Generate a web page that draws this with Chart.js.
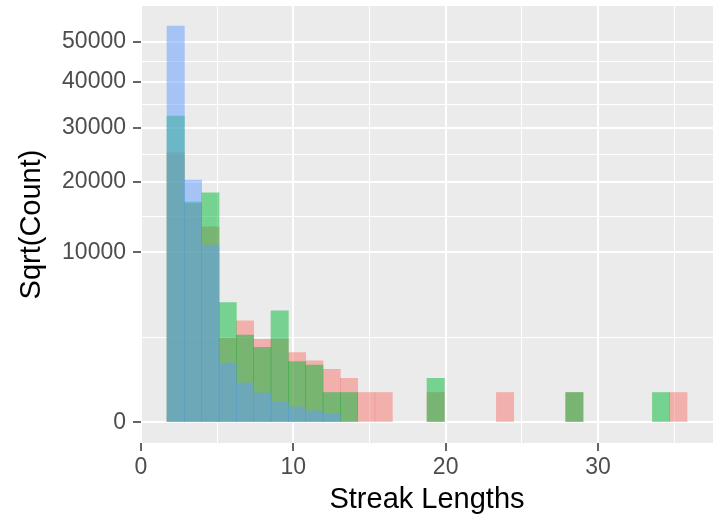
<!DOCTYPE html>
<html>
<head>
<meta charset="utf-8">
<script src="https://cdn.jsdelivr.net/npm/chart.js@4.4.1/dist/chart.umd.min.js"></script>
<style>
  html, body { margin: 0; padding: 0; background: #fff; }
</style>
</head>
<body>
<canvas id="streakChart" width="725" height="519"></canvas>
<script>
// histogram bins (centres, in streak length units)
var binCenters = [2.276, 3.414, 4.552, 5.690, 6.828, 7.966, 9.104, 10.242, 11.380, 12.518,
  13.656, 14.794, 15.932, 17.070, 18.208, 19.346, 20.484, 21.622, 22.760, 23.898,
  25.036, 26.174, 27.312, 28.450, 29.588, 30.726, 31.864, 33.002, 34.140, 35.278];
var redCounts = [25100, 16500, 13220, 2440, 3570, 2390, 2400, 1680, 1316, 975,
  673, 310, 310, 0, 0, 310, 0, 0, 0, 310,
  0, 0, 0, 310, 0, 0, 0, 0, 0, 310];
var greenCounts = [32400, 16770, 18200, 4950, 2640, 1950, 4310, 1275, 1140, 310,
  310, 0, 0, 0, 0, 673, 0, 0, 0, 0,
  0, 0, 0, 310, 0, 0, 0, 0, 310, 0];
var blueCounts = [54200, 20280, 10860, 1220, 540, 300, 145, 83, 46, 25,
  0, 0, 0, 0, 0, 0, 0, 0, 0, 0,
  0, 0, 0, 0, 0, 0, 0, 0, 0, 0];
var xMajor = [0, 10, 20, 30];
var xMinor = [5, 15, 25, 35];
var yMajor = [0, 10000, 20000, 30000, 40000, 50000];

var FONT = "'Liberation Sans', Arial, sans-serif";

function sgnSqrt(v) { return v < 0 ? -Math.sqrt(-v) : Math.sqrt(v); }

// linear scale drawn on a square-root transform
class SqrtScale extends Chart.LinearScale {
  configure() {
    super.configure();
    this._sMin = sgnSqrt(this.min);
    this._sMax = sgnSqrt(this.max);
  }
  getPixelForValue(value) {
    return this.getPixelForDecimal((sgnSqrt(value) - this._sMin) / (this._sMax - this._sMin));
  }
  getValueForPixel(pixel) {
    var s = this._sMin + this.getDecimalForPixel(pixel) * (this._sMax - this._sMin);
    return s < 0 ? -s * s : s * s;
  }
}
SqrtScale.id = 'sqrt';
SqrtScale.defaults = {};
Chart.register(SqrtScale);

// minor breaks sit halfway between majors in sqrt space
var yMinor = [];
for (var i = 0; i < yMajor.length - 1; i++) {
  var m = (Math.sqrt(yMajor[i]) + Math.sqrt(yMajor[i + 1])) / 2;
  yMinor.push(m * m);
}

// empty bins get no bar at all
function points(counts) {
  return binCenters.map(function (x, i) { return { x: x, y: counts[i] > 0 ? counts[i] : null }; });
}

var panelBg = {
  id: 'panelBg',
  beforeDraw: function (chart) {
    var c = chart.ctx, a = chart.chartArea;
    c.save();
    c.fillStyle = '#ffffff';
    c.fillRect(0, 0, chart.width, chart.height);
    c.fillStyle = '#EBEBEB';
    c.fillRect(a.left, a.top, a.right - a.left, a.bottom - a.top);
    c.restore();
  }
};

function gridStyle(majors) {
  return {
    color: '#ffffff',
    lineWidth: function (ctx) { return majors.indexOf(ctx.tick.value) >= 0 ? 2 : 1; },
    tickColor: function (ctx) { return majors.indexOf(ctx.tick.value) >= 0 ? '#333333' : 'rgba(0,0,0,0)'; },
    tickWidth: 1.5,
    tickLength: 8,
    drawTicks: true,
    offset: false
  };
}

var ctx = document.getElementById('streakChart').getContext('2d');
var chart = new Chart(ctx, {
  type: 'bar',
  data: {
    datasets: [
      { label: 'blue', data: points(blueCounts), backgroundColor: 'rgba(97,156,255,0.5)', order: 1 },
      { label: 'green', data: points(greenCounts), backgroundColor: 'rgba(0,186,56,0.5)', order: 2 },
      { label: 'red', data: points(redCounts), backgroundColor: 'rgba(248,118,109,0.5)', order: 3 }
    ]
  },
  options: {
    responsive: false,
    animation: false,
    devicePixelRatio: 1,
    layout: { padding: { left: 14, top: 6, right: 12, bottom: 0 } },
    datasets: {
      bar: { grouped: false, barPercentage: 1, categoryPercentage: 1, borderWidth: 0 }
    },
    plugins: { legend: { display: false }, tooltip: { enabled: false } },
    scales: {
      x: {
        type: 'linear',
        min: 0,
        max: 37.55,
        offset: false,
        grid: gridStyle(xMajor),
        border: { display: false },
        afterBuildTicks: function (s) {
          s.ticks = xMajor.concat(xMinor).sort(function (a, b) { return a - b; })
            .map(function (v) { return { value: v }; });
        },
        afterFit: function (s) { s.height = 76; s.paddingLeft = 0; s.paddingRight = 0; },
        ticks: {
          autoSkip: false,
          maxRotation: 0,
          padding: 3,
          color: '#4D4D4D',
          font: { family: FONT, size: 23 },
          callback: function (v) { return xMajor.indexOf(v) >= 0 ? String(v) : ''; }
        },
        title: {
          display: true,
          text: 'Streak Lengths',
          color: '#000000',
          font: { family: FONT, size: 29 },
          padding: { top: 0, bottom: 2 }
        }
      },
      y: {
        type: 'sqrt',
        bounds: 'data',
        min: -145,
        max: 59830,
        grid: gridStyle(yMajor),
        border: { display: false },
        afterBuildTicks: function (s) {
          s.ticks = yMajor.concat(yMinor).sort(function (a, b) { return a - b; })
            .map(function (v) { return { value: v }; });
        },
        afterFit: function (s) { s.width = 141 - 14; s.paddingTop = 0; s.paddingBottom = 0; },
        ticks: {
          autoSkip: false,
          padding: 7,
          color: '#4D4D4D',
          font: { family: FONT, size: 23 },
          callback: function (v) { return yMajor.indexOf(v) >= 0 ? String(v) : ''; }
        },
        title: {
          display: true,
          text: 'Sqrt(Count)',
          color: '#000000',
          font: { family: FONT, size: 29 },
          padding: { top: 1, bottom: 0 }
        }
      }
    }
  },
  plugins: [panelBg]
});
</script>
</body>
</html>
